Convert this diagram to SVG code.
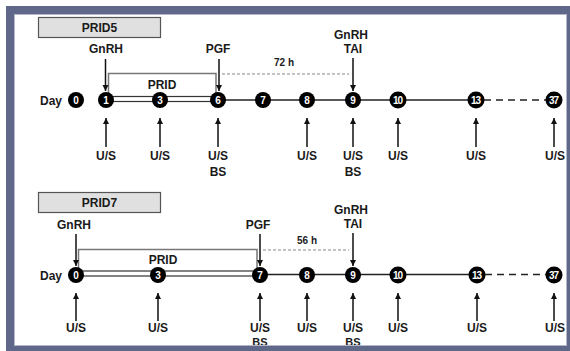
<svg xmlns="http://www.w3.org/2000/svg" width="570" height="351" viewBox="0 0 570 351">
<style>
text{font-family:"Liberation Sans",Arial,sans-serif;font-weight:bold;fill:#1a1a1a;text-anchor:middle}
.lbl{font-size:12px}
.bs{font-size:11px}
.sm{font-size:10px}
.num{font-size:10px;fill:#fff}
.num2{font-size:10px;fill:#fff;letter-spacing:-0.9px}
.dot{fill:#000}
.tl{stroke:#222;stroke-width:1.5;fill:none}
.bar{stroke:#333;stroke-width:1.2;fill:#fff}
.brk{stroke:#777;stroke-width:1.5;fill:none}
.dsh{stroke:#888;stroke-width:1.2;stroke-dasharray:3 2;fill:none}
.tail{stroke:#222;stroke-width:1.5;stroke-dasharray:7 5;fill:none}
.arr{stroke:#111;stroke-width:1.5;fill:none;marker-end:url(#ah)}
.box{fill:#e0e0e0;stroke:#555;stroke-width:1.2}
</style>
<defs>
<marker id="ah" viewBox="0 0 8 8" refX="8" refY="4" markerWidth="6" markerHeight="7" orient="auto" markerUnits="userSpaceOnUse"><path d="M0,0 L8,4 L0,8 Z" fill="#111"/></marker>
</defs>
<rect width="570" height="351" fill="#fff"/>

<!-- PRID5 -->
<g id="prid5-title"><rect class="box" x="38.5" y="17.5" width="122" height="20"/><text class="lbl" x="99.5" y="32">PRID5</text></g>
<g id="connectors-prid5">
<line class="dsh" x1="222" y1="74" x2="349" y2="74"/>
<path class="brk" d="M108.5,96 V73.5 H216 V96"/>
<rect class="bar" x="106" y="96.5" width="112" height="5"/>
<line class="tl" x1="218" y1="100" x2="476" y2="100"/>
<line class="tail" x1="484" y1="100" x2="546" y2="100"/>
<line class="arr" x1="105.5" y1="59" x2="105.5" y2="91"/>
<line class="arr" x1="219" y1="59" x2="219" y2="91"/>
<line class="arr" x1="353" y1="58" x2="353" y2="91"/>
<line class="arr" x1="106" y1="147" x2="106" y2="118"/>
<line class="arr" x1="160" y1="147" x2="160" y2="118"/>
<line class="arr" x1="218" y1="147" x2="218" y2="118"/>
<line class="arr" x1="307" y1="147" x2="307" y2="118"/>
<line class="arr" x1="353" y1="147" x2="353" y2="118"/>
<line class="arr" x1="398" y1="147" x2="398" y2="118"/>
<line class="arr" x1="476" y1="147" x2="476" y2="118"/>
<line class="arr" x1="554" y1="147" x2="554" y2="118"/>
</g>
<g id="prid5-labels">
<text class="lbl" x="106" y="53">GnRH</text>
<text class="lbl" x="218" y="53">PGF</text>
<text class="lbl" x="351" y="39">GnRH</text>
<text class="lbl" x="353" y="53">TAI</text>
<text class="sm" x="284" y="66">72 h</text>
<text class="lbl" x="162" y="89">PRID</text>
<text class="lbl" x="51" y="104.5">Day</text>
<text class="lbl" x="106" y="160">U/S</text>
<text class="lbl" x="160" y="160">U/S</text>
<text class="lbl" x="218" y="160">U/S</text>
<text class="lbl" x="218" y="176">BS</text>
<text class="lbl" x="307" y="160">U/S</text>
<text class="lbl" x="353" y="160">U/S</text>
<text class="lbl" x="353" y="176">BS</text>
<text class="lbl" x="398" y="160">U/S</text>
<text class="lbl" x="476" y="160">U/S</text>
<text class="lbl" x="555" y="160">U/S</text>
</g>
<g id="p5-d0"><circle class="dot" cx="76" cy="100" r="8"/><text class="num" x="76" y="103.5">0</text></g>
<g id="p5-d1"><circle class="dot" cx="106" cy="100" r="8"/><text class="num" x="106" y="103.5">1</text></g>
<g id="p5-d3"><circle class="dot" cx="160" cy="100" r="8"/><text class="num" x="160" y="103.5">3</text></g>
<g id="p5-d6"><circle class="dot" cx="218" cy="100" r="8"/><text class="num" x="218" y="103.5">6</text></g>
<g id="p5-d7"><circle class="dot" cx="263" cy="100" r="8"/><text class="num" x="263" y="103.5">7</text></g>
<g id="p5-d8"><circle class="dot" cx="307" cy="100" r="8"/><text class="num" x="307" y="103.5">8</text></g>
<g id="p5-d9"><circle class="dot" cx="353" cy="100" r="8"/><text class="num" x="353" y="103.5">9</text></g>
<g id="p5-d10"><circle class="dot" cx="398" cy="100" r="8.5"/><text class="num2" x="397.6" y="103.5">10</text></g>
<g id="p5-d13"><circle class="dot" cx="476" cy="100" r="8.5"/><text class="num2" x="475.6" y="103.5">13</text></g>
<g id="p5-d37"><circle class="dot" cx="554" cy="100" r="8.5"/><text class="num2" x="553.6" y="103.5">37</text></g>

<!-- PRID7 -->
<g id="prid7-title"><rect class="box" x="38.5" y="192.5" width="122" height="20"/><text class="lbl" x="99.5" y="207">PRID7</text></g>
<g id="connectors-prid7">
<line class="dsh" x1="263" y1="250" x2="349" y2="250"/>
<path class="brk" d="M78.5,271 V249.5 H257 V271"/>
<rect class="bar" x="76" y="271" width="184" height="5"/>
<line class="tl" x1="260" y1="274.5" x2="477" y2="274.5"/>
<line class="tail" x1="485" y1="274.5" x2="546" y2="274.5"/>
<line class="arr" x1="76" y1="321" x2="76" y2="293"/>
<line class="arr" x1="76" y1="234" x2="76" y2="266"/>
<line class="arr" x1="260" y1="234" x2="260" y2="266"/>
<line class="arr" x1="353" y1="233" x2="353" y2="266"/>
<line class="arr" x1="158" y1="321" x2="158" y2="293"/>
<line class="arr" x1="260" y1="321" x2="260" y2="293"/>
<line class="arr" x1="307" y1="321" x2="307" y2="293"/>
<line class="arr" x1="353" y1="321" x2="353" y2="293"/>
<line class="arr" x1="398" y1="321" x2="398" y2="293"/>
<line class="arr" x1="477" y1="321" x2="477" y2="293"/>
<line class="arr" x1="554" y1="321" x2="554" y2="293"/>
</g>
<g id="prid7-labels">
<text class="lbl" x="74" y="229">GnRH</text>
<text class="lbl" x="258" y="229">PGF</text>
<text class="lbl" x="351" y="214">GnRH</text>
<text class="lbl" x="353" y="228">TAI</text>
<text class="sm" x="307" y="244">56 h</text>
<text class="lbl" x="163" y="264">PRID</text>
<text class="lbl" x="51" y="279.5">Day</text>
<text class="lbl" x="76" y="332">U/S</text>
<text class="lbl" x="158" y="332">U/S</text>
<text class="lbl" x="260" y="332">U/S</text>
<text class="bs" x="260" y="345.5">BS</text>
<text class="lbl" x="307" y="332">U/S</text>
<text class="lbl" x="353" y="332">U/S</text>
<text class="bs" x="353" y="345.5">BS</text>
<text class="lbl" x="398" y="332">U/S</text>
<text class="lbl" x="477" y="332">U/S</text>
<text class="lbl" x="555" y="332">U/S</text>
</g>
<g id="p7-d0"><circle class="dot" cx="76" cy="275" r="8"/><text class="num" x="76" y="278.5">0</text></g>
<g id="p7-d3"><circle class="dot" cx="158" cy="275" r="8"/><text class="num" x="158" y="278.5">3</text></g>
<g id="p7-d7"><circle class="dot" cx="260" cy="275" r="8"/><text class="num" x="260" y="278.5">7</text></g>
<g id="p7-d8"><circle class="dot" cx="307" cy="275" r="8"/><text class="num" x="307" y="278.5">8</text></g>
<g id="p7-d9"><circle class="dot" cx="353" cy="275" r="8"/><text class="num" x="353" y="278.5">9</text></g>
<g id="p7-d10"><circle class="dot" cx="398" cy="275" r="8.5"/><text class="num2" x="397.6" y="278.5">10</text></g>
<g id="p7-d13"><circle class="dot" cx="477" cy="275" r="8.5"/><text class="num2" x="476.6" y="278.5">13</text></g>
<g id="p7-d37"><circle class="dot" cx="554" cy="275" r="8.5"/><text class="num2" x="553.6" y="278.5">37</text></g>

<!-- frame -->
<g id="frame">
<rect x="14.5" y="14.5" width="552" height="331" fill="none" stroke="#b4b8c8" stroke-width="1"/>
<path d="M6,6 H570 V351 H6 Z M14,14 V346 H567 V14 Z" fill="#5f6888" fill-rule="evenodd"/>
</g>
</svg>
